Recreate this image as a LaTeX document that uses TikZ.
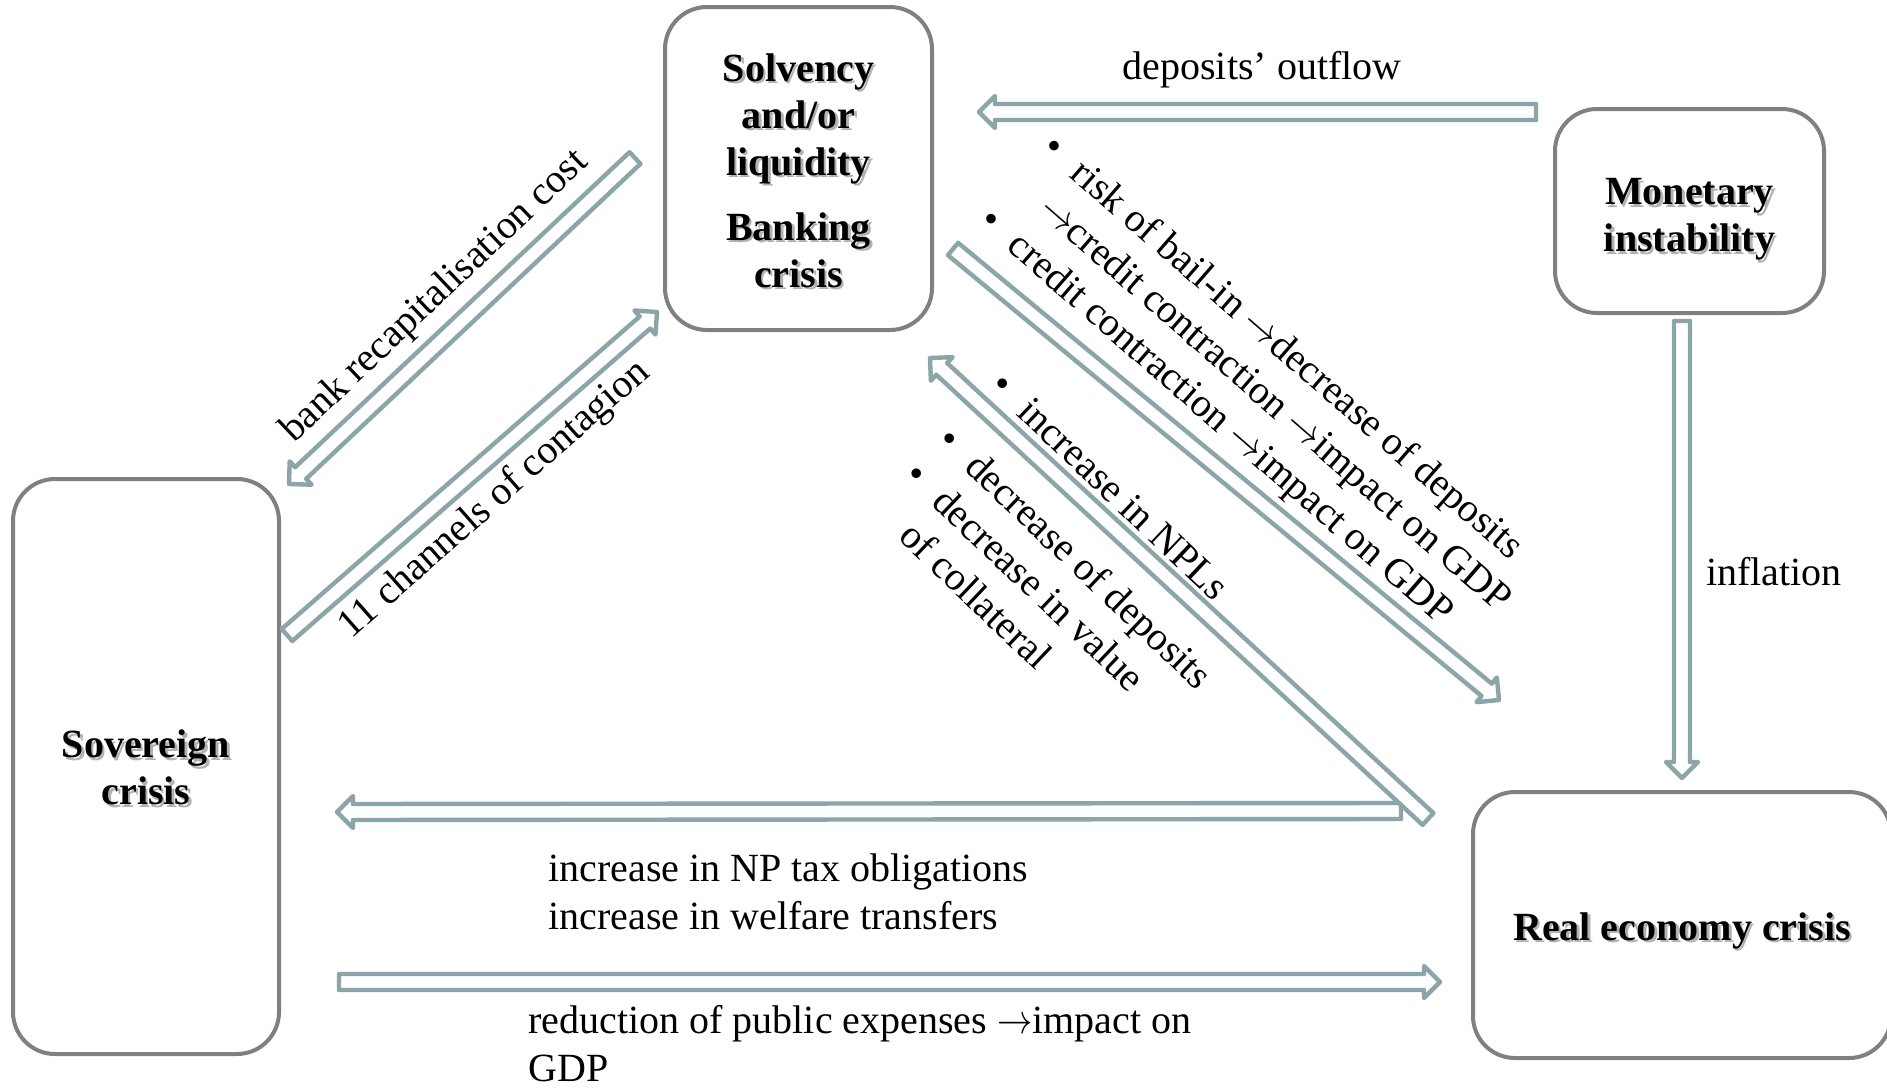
\documentclass[tikz,border=0pt]{standalone}
\usepackage{graphicx}
\usepackage{fontspec}
\setmainfont{Liberation Serif}
\usetikzlibrary{calc}
\definecolor{arrc}{RGB}{140,165,168}
\definecolor{boxc}{RGB}{128,128,128}
\newlength\arwW \setlength\arwW{4pt}
\newlength\arwH \setlength\arwH{8pt}
\newlength\arwL \setlength\arwL{8pt}
\newcommand\hollowarrow[2]{%
  \coordinate (hbase) at ($(#2)!\arwL!(#1)$);
  \draw[barrow] ($(#1)!\arwW!90:(#2)$) -- ($(hbase)!\arwW!90:(#2)$) -- ($(hbase)!\arwH!90:(#2)$) -- (#2) -- ($(hbase)!\arwH!-90:(#2)$) -- ($(hbase)!\arwW!-90:(#2)$) -- ($(#1)!\arwW!-90:(#2)$) -- cycle;}
\newcommand\shd[1]{\leavevmode\rlap{\hspace{1.3pt}\raisebox{-1.3pt}{\color{black!30}#1}}#1}
\newcommand\rarr{\scalebox{0.85}[1]{$\rightarrow$}}
\tikzset{
  crisis/.style={draw=boxc, line width=2pt, rounded corners=21pt, inner sep=0pt},
  crisistext/.style={align=center, font=\fontsize{20pt}{23.5pt}\selectfont\bfseries, inner sep=0pt},
  barrow/.style={draw=arrc, line width=2.2pt, line join=round, fill=white},
  lbl/.style={inner sep=0pt},
}
\begin{document}
\begin{tikzpicture}[x=0.5pt, y=-0.5pt, font=\fontsize{20pt}{24pt}\selectfont]
\useasboundingbox (0,0) rectangle (1887,1088);
\fill[white] (0,0) rectangle (1887,1088);

% boxes
\node[crisis, minimum width=133.5pt, minimum height=161.5pt] (bank) at (798.5,168.5) {};
\node[crisis, minimum width=134.5pt, minimum height=102pt] (mon) at (1689.5,211) {};
\node[crisis, minimum width=133pt, minimum height=287.5pt] (sov) at (146,766.5) {};
\node[crisis, minimum width=209pt, minimum height=133pt] (real) at (1682,925) {};

\node[crisistext] (bankt) at (798.5,172)
  {\shd{Solvency}\\\shd{and/or}\\\shd{liquidity}\\[9pt]\shd{Banking}\\\shd{crisis}};
\node[crisistext] (mont) at (1689.5,221) {\shd{Monetary}\\\shd{instability}};
\node[crisistext] (sovt) at (146,769) {\shd{Sovereign}\\\shd{crisis}};
\node[crisistext] (realt) at (1682,932) {\shd{Real economy crisis}};

% arrow end points
\coordinate (a1s) at (1536,112); \coordinate (a1e) at (979,112);
\coordinate (a2s) at (1682,321); \coordinate (a2e) at (1682,778);
\coordinate (a3s) at (635,158);  \coordinate (a3e) at (289,484);
\coordinate (a4s) at (287,635);  \coordinate (a4e) at (657,312);
\coordinate (a5s) at (953,249);  \coordinate (a5e) at (1499,700);
\coordinate (a6s) at (1428,819); \coordinate (a6e) at (930,358);
\coordinate (a7s) at (1401,811); \coordinate (a7e) at (337,812);
\coordinate (a8s) at (339,982);  \coordinate (a8e) at (1440,982);

\hollowarrow{a1s}{a1e}
\hollowarrow{a2s}{a2e}
\hollowarrow{a3s}{a3e}
\hollowarrow{a4s}{a4e}
\hollowarrow{a5s}{a5e}
\hollowarrow{a7s}{a7e}
\hollowarrow{a6s}{a6e}
\hollowarrow{a8s}{a8e}

% labels
\node[lbl] (tdep) at (1262,70) {deposits’ outflow};
\node[lbl] (tinf) at (1774,572) {inflation};
\node[lbl, rotate=43.5] (trecap) at (435,297) {bank recapitalisation cost};
\node[lbl, rotate=41.5] (tcont) at (495,500) {11 channels of contagion};
\node[lbl, anchor=west, align=left] (ttax) at (548,892)
  {increase in NP tax obligations\\increase in welfare transfers};
\node[lbl, anchor=west, align=left] (tred) at (528,1044)
  {reduction of public expenses \rarr impact on\\GDP};

% upper list
\begin{scope}[shift={(1055,146)}, rotate=-41, transform shape]
  \node[lbl, anchor=base] (ub1) at (0,14) {•};
  \node[lbl, anchor=base west] (ul1) at (30,14) {risk of bail-in \rarr decrease of deposits};
  \node[lbl, anchor=base west] (ul2) at (30,62) {\rarr credit contraction \rarr impact on GDP};
  \node[lbl, anchor=base] (ub2) at (0,110) {•};
  \node[lbl, anchor=base west] (ul3) at (30,110) {credit contraction \rarr impact on GDP};
\end{scope}

% lower list
\begin{scope}[shift={(1003,383)}, rotate=-43.5, transform shape]
  \node[lbl, anchor=base] (lb1) at (0,14) {•};
  \node[lbl, anchor=base west] (ll1) at (30,14) {increase in NPLs};
  \node[lbl, anchor=base] (lb2) at (0,90) {•};
  \node[lbl, anchor=base west] (ll2) at (30,90) {decrease of deposits};
  \node[lbl, anchor=base] (lb3) at (0,138) {•};
  \node[lbl, anchor=base west] (ll3) at (30,138) {decrease in value};
  \node[lbl, anchor=base west] (ll4) at (30,186) {of collateral};
\end{scope}
\end{tikzpicture}
\end{document}
